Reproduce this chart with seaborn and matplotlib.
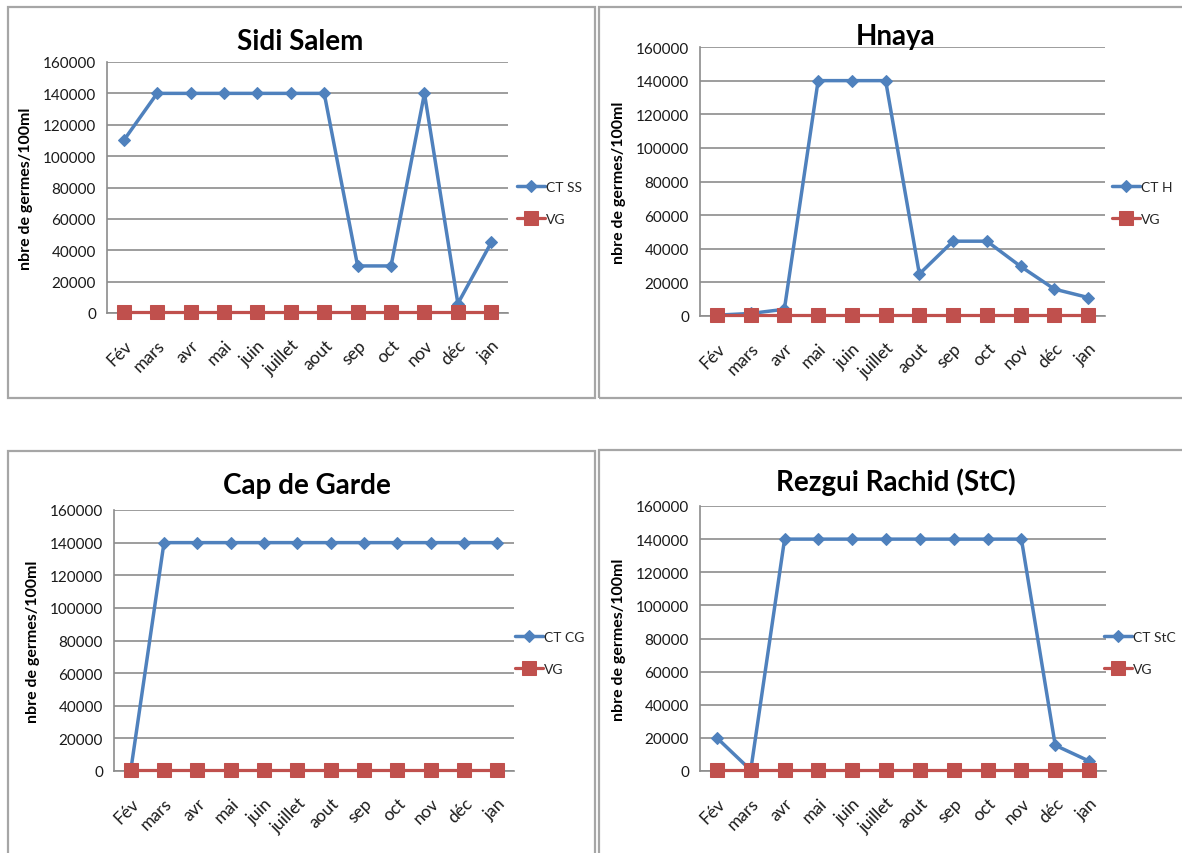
import matplotlib
matplotlib.use("Agg")
import matplotlib.pyplot as plt
from matplotlib.patches import Rectangle
import numpy as np
import pandas as pd
import seaborn as sns

# Months of the sampling campaign
months = ["Fév", "mars", "avr", "mai", "juin", "juillet", "aout", "sep", "oct", "nov", "déc", "jan"]

# Total coliforms (nbre de germes/100ml) per station
ct_sidi_salem = [110000, 140000, 140000, 140000, 140000, 140000, 140000, 30000, 30000, 140000, 6000, 45000]
ct_hnaya = [500, 1500, 4000, 140000, 140000, 140000, 25000, 44500, 44500, 29500, 16000, 11000]
ct_cap_garde = [0, 140000, 140000, 140000, 140000, 140000, 140000, 140000, 140000, 140000, 140000, 140000]
ct_rezgui = [20000, 500, 140000, 140000, 140000, 140000, 140000, 140000, 140000, 140000, 15500, 6000]

# Guide value
vg = [500] * 12

y_ticks = [0, 20000, 40000, 60000, 80000, 100000, 120000, 140000, 160000]

sns.set_theme(style="white")
plt.rcParams["font.family"] = ["Lato", "DejaVu Sans"]

W, H = 1182, 854
fig = plt.figure(figsize=(W / 100, H / 100), dpi=100)

BLUE = "#4F81BD"
RED = "#C0504D"
GRID = "#8C8C8C"
TXT = "#1a1a1a"

panels = [
    # title, series, legend label, axes px box (x0, x1, ytop, ybottom), frame box, legend anchor (x, y), title y
    ("Sidi Salem", ct_sidi_salem, "CT SS", (107, 508, 63, 314), (8, 595, 8, 399), (517, 204), 42),
    ("Hnaya", ct_hnaya, "CT H", (700, 1105, 48, 317), (599, 1190, 8, 399), (1112, 204), 37),
    ("Cap de Garde", ct_cap_garde, "CT CG", (114, 514, 511, 772), (8, 595, 452, 870), (515, 654), 486),
    ("Rezgui Rachid (StC)", ct_rezgui, "CT StC", (700, 1106, 507, 772), (599, 1190, 451, 870), (1104, 654), 482),
]

x = np.arange(len(months))

for title, ct, lab, (x0, x1, yt, yb), (fx0, fx1, fy0, fy1), (lx, ly), ty in panels:
    # panel frame
    fig.patches.append(Rectangle((fx0 / W, 1 - fy1 / H), (fx1 - fx0) / W, (fy1 - fy0) / H,
                                 transform=fig.transFigure, fill=False,
                                 edgecolor="#A6A6A6", linewidth=1.6, zorder=0))

    ax = fig.add_axes([x0 / W, 1 - yb / H, (x1 - x0) / W, (yb - yt) / H])
    df = pd.DataFrame({"mois": x, "ct": ct, "vg": vg})

    sns.lineplot(data=df, x="mois", y="ct", ax=ax, color=BLUE, marker="D", markersize=6.5,
                 markeredgecolor=BLUE, linewidth=2.5, label=lab, clip_on=False, zorder=3)
    sns.lineplot(data=df, x="mois", y="vg", ax=ax, color=RED, marker="s", markersize=9.5,
                 markeredgecolor=RED, linewidth=2.3, label="VG", clip_on=False, zorder=4)

    ax.set_xlim(-0.5, len(months) - 0.5)
    ax.set_ylim(0, 160000)
    ax.set_yticks(y_ticks)
    ax.set_yticklabels([str(v) for v in y_ticks], fontsize=11, color=TXT)
    ax.set_xticks(x)
    ax.set_xticklabels(months, rotation=45, ha="right", rotation_mode="anchor",
                       fontsize=12.5, color=TXT)
    ax.set_xticks(np.arange(-0.5, len(months)), minor=True)
    ax.tick_params(axis="x", which="major", length=0, pad=17)
    ax.tick_params(axis="x", which="minor", length=5, color=GRID, width=1.2, direction="out")
    ax.tick_params(axis="y", which="major", length=5, color=GRID, width=1.2, direction="out", pad=3)

    ax.grid(axis="y", color=GRID, linewidth=1.2)
    ax.grid(axis="x", visible=False)
    ax.set_axisbelow(True)
    for s in ["top", "right"]:
        ax.spines[s].set_visible(False)
    for s in ["left", "bottom"]:
        ax.spines[s].set_color(GRID)
        ax.spines[s].set_linewidth(1.2)

    ax.set_xlabel("")
    ax.set_ylabel("nbre de germes/100ml", fontsize=11.5, fontweight="bold", color="black", labelpad=7)

    fig.text((x0 + x1) / 2 / W - 0.006, 1 - ty / H, title, fontsize=20, fontweight="bold",
             ha="center", va="center", color="black")

    ax.legend(loc="center left", bbox_to_anchor=(lx / W, 1 - ly / H), bbox_transform=fig.transFigure,
              frameon=False, fontsize=10, handlelength=2.0, handletextpad=0.1,
              labelspacing=1.4, borderpad=0, borderaxespad=0)

fig.savefig("out.png", dpi=100)
